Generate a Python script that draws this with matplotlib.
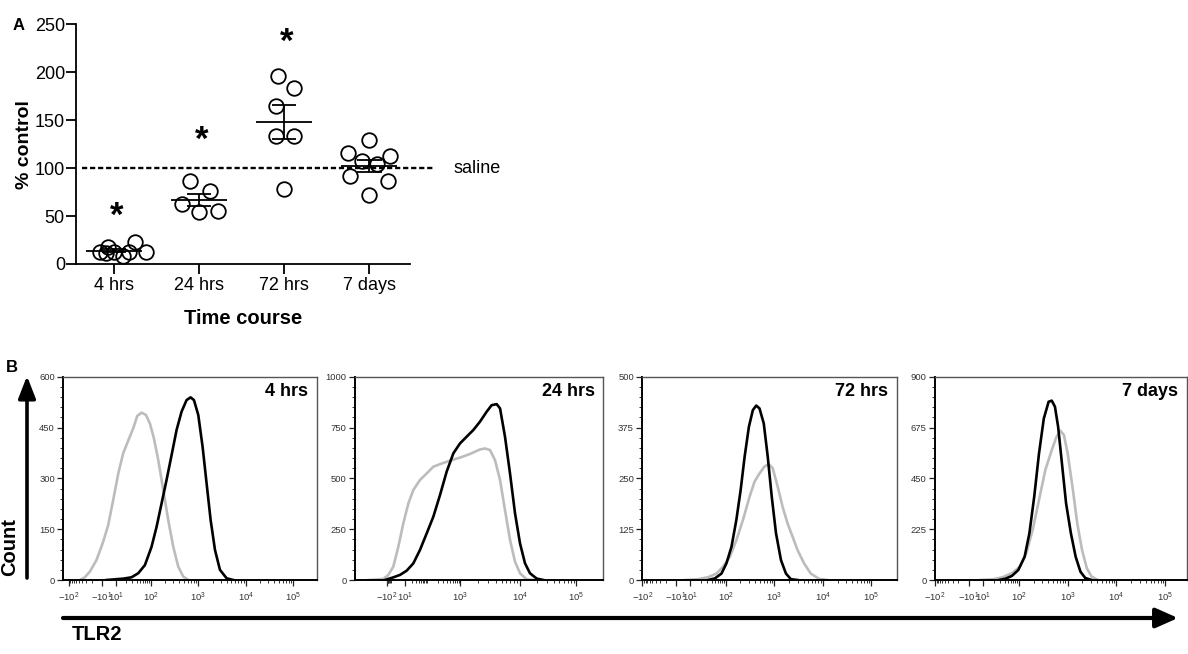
import numpy as np
import matplotlib
matplotlib.use('Agg')
import matplotlib.pyplot as plt
from matplotlib.ticker import FixedLocator, FixedFormatter, AutoMinorLocator
from matplotlib.patches import FancyArrowPatch

plt.rcParams['font.family'] = ['Liberation Sans', 'DejaVu Sans']
plt.rcParams['mathtext.fontset'] = 'custom'
plt.rcParams['mathtext.rm'] = 'Liberation Sans'
plt.rcParams['mathtext.it'] = 'Liberation Sans:italic'
plt.rcParams['mathtext.bf'] = 'Liberation Sans:bold'
plt.rcParams['mathtext.default'] = 'regular'

# ---------------- Panel A data ----------------
groups = ['4 hrs', '24 hrs', '72 hrs', '7 days']
vals_4h = [13, 18, 12, 8, 23, 13, 12, 11]
vals_24h = [87, 76.5, 63, 54, 55]
vals_72h = [196, 184, 165, 133, 133, 78.6]
vals_7d = [129, 116, 113, 107, 104, 92, 86.6, 71.6]
jit_4h = [-0.17, -0.07, 0.0, 0.1, 0.25, 0.38, 0.18, -0.1]
jit_24h = [-0.11, 0.13, -0.2, 0.0, 0.22]
jit_72h = [-0.07, 0.12, -0.1, -0.1, 0.12, 0.0]
jit_7d = [0.0, -0.25, 0.25, -0.09, 0.09, -0.22, 0.22, 0.0]
saline_level = 100
signif = [True, True, True, False]
star_y = [55.6, 134.6, 237, None]

# ---------------- Panel B data ----------------
hist_titles = ['4 hrs', '24 hrs', '72 hrs', '7 days']
hist_ymax = [600, 1000, 500, 900]

p1_gray_x = [-46.5, -32.8, -23.0, -14.4, -6.15, -0.46, 4.17, 11.9, 16.4, 23.2, 31.8, 41.3,
             54.8, 73.3, 94.6, 116.7, 143.9, 183.2, 233.3, 297.9, 380.2, 483.1, 616.6]
p1_gray_y = [0, 8, 25, 59, 113, 162, 236, 315, 374, 413, 448, 484, 494, 487, 462, 418,
             354, 266, 177, 98, 39, 10, 0]
p1_black_x = [-1.69, 7.8, 16.5, 28.4, 44.2, 68.2, 104, 132.7, 169, 215, 274.8, 350, 445.6,
              567.5, 690, 811, 1000, 1233, 1497, 1820, 2244, 2858, 3948, 5458]
p1_black_y = [0, 2, 4, 8, 20, 44, 98, 157, 226, 295, 369, 443, 497, 531, 539, 531, 487,
              393, 285, 177, 89, 30, 5, 0]

p2_gray_x = [-407, -131, -52.5, -5.83, 0.62, 6.81, 14.7, 24.0, 46.2, 89.1, 148, 239, 489,
             1000, 1472, 2163, 2624, 3184, 3855, 4688, 5675, 6887, 8356, 10140, 13300, 17400]
p2_gray_y = [0, 5, 25, 66, 164, 279, 377, 443, 492, 524, 557, 570, 587, 602, 620, 642,
             647, 639, 590, 492, 344, 197, 90, 33, 3, 0]
p2_black_x = [-115, -5.83, 1.90, 12.45, 24.0, 46.2, 89.1, 148, 239, 385, 621, 1000, 1294,
              1675, 2163, 2800, 3388, 4121, 4688, 5675, 6887, 8356, 10140, 12410, 15200,
              19950, 26180]
p2_black_y = [0, 13, 25, 46, 82, 148, 229, 311, 418, 533, 623, 672, 705, 738, 779, 828,
              860, 865, 844, 705, 524, 328, 180, 82, 33, 7, 0]

p3_gray_x = [1.54, 17.2, 32.5, 55.3, 84.5, 121, 165, 226, 309, 391, 494, 625, 766, 925,
             1169, 1479, 1871, 2366, 2992, 4093, 5598, 8279, 12250]
p3_gray_y = [0, 2, 7, 16, 33, 57, 98, 148, 205, 242, 262, 279, 285, 275, 230, 180, 139,
             107, 74, 41, 16, 3, 0]
p3_black_x = [32.5, 49.8, 76.0, 103, 131, 165, 202, 244, 299, 361, 423, 494, 605, 731,
              883, 1081, 1368, 1730, 2188, 2992]
p3_black_y = [0, 4, 16, 41, 82, 148, 221, 303, 377, 418, 429, 422, 385, 303, 205, 115,
              49, 16, 2, 0]

p4_gray_x = [3.66, 18.9, 34.8, 63.8, 105, 141, 191, 258, 348, 471, 590, 708, 836, 1000,
             1253, 1570, 1968, 2466, 3090, 4178]
p4_gray_y = [0, 3, 12, 30, 59, 118, 221, 354, 487, 575, 634, 661, 642, 560, 413, 251,
             133, 52, 15, 0]
p4_black_x = [28.4, 42.5, 63.8, 96, 131, 164, 206, 258, 324, 406, 471, 548, 637, 762,
              927, 1162, 1456, 1824, 2287, 3090]
p4_black_y = [0, 6, 18, 44, 103, 207, 369, 560, 715, 789, 794, 767, 678, 516, 339, 207,
              103, 37, 9, 0]

# biexponential-like display scales (arcsinh units -> display decades)
scale_u = [-5, -4, -2, -1, 0, 1, 2, 3, 4, 5, 7]
scale_p_std = [-4.79, -4.10, -2.72, -2.03, -1.88, -1.74, -1.0, 0, 1, 2, 4]
scale_u2 = [-5, -3, -2, -1, 0, 1, 2, 3, 4, 5, 7]
scale_p_wide = [-2.81, -1.77, -1.25, -1.16, -1.07, -0.95, -0.55, 0, 1.02, 1.99, 3.99]

ticks_std = [-100, -10, 10, 100, 1000, 10000, 100000]
labels_std = [r'$-10^{2}$', r'$-10^{1}$', r'$10^{1}$', r'$10^{2}$', r'$10^{3}$', r'$10^{4}$', r'$10^{5}$']
ticks_wide = [-100, 10, 1000, 10000, 100000]
labels_wide = [r'$-10^{2}$', r'$10^{1}$', r'$10^{3}$', r'$10^{4}$', r'$10^{5}$']

W, H = 1188, 654
fig = plt.figure(figsize=(W / 100, H / 100), dpi=100)


def px_rect(l, t, r, b):
    return [l / W, 1 - b / H, (r - l) / W, (b - t) / H]


# ---------------- Panel A ----------------
axA = fig.add_axes(px_rect(76, 24.3, 410, 264))
all_vals = [vals_4h, vals_24h, vals_72h, vals_7d]
all_jit = [jit_4h, jit_24h, jit_72h, jit_7d]
xpos = np.arange(1, len(groups) + 1)
for i, (v, j) in enumerate(zip(all_vals, all_jit)):
    v = np.asarray(v, float)
    xc = xpos[i]
    m = v.mean()
    sem = v.std(ddof=1) / np.sqrt(len(v))
    axA.plot(xc + np.asarray(j), v, 'o', ms=10.5, mfc='none', mec='black', mew=1.3, zorder=3)
    axA.hlines(m, xc - 0.33, xc + 0.33, color='black', lw=1.3, zorder=4)
    axA.vlines(xc, m - sem, m + sem, color='black', lw=1.3, zorder=4)
    axA.hlines([m - sem, m + sem], xc - 0.145, xc + 0.145, color='black', lw=1.3, zorder=4)
    if signif[i]:
        axA.annotate('*', (xc + 0.03, star_y[i]), xytext=(0, -11), textcoords='offset points',
                     ha='center', va='baseline', fontsize=25, fontweight='bold')

axA.plot([0.624, 4.75], [saline_level, saline_level], color='black', lw=1.7,
         dashes=(2.2, 1.2), clip_on=False, zorder=2)
axA.text(4.99, saline_level, 'saline', ha='left', va='center', fontsize=13)

axA.set_xlim(0.553, 4.48)
axA.set_ylim(0, 250)
axA.set_xticks(xpos)
axA.set_xticklabels(groups, fontsize=13)
axA.set_yticks([0, 50, 100, 150, 200, 250])
axA.tick_params(axis='y', labelsize=13, length=7, width=1.3, pad=1)
axA.tick_params(axis='x', length=7, width=1.3, pad=2.5)
for s in ['top', 'right']:
    axA.spines[s].set_visible(False)
for s in ['left', 'bottom']:
    axA.spines[s].set_linewidth(1.3)
axA.set_ylabel('% control', fontsize=14, fontweight='bold')
axA.yaxis.set_label_coords(-0.129, 0.5)
axA.set_xlabel('Time course', fontsize=14.5, fontweight='bold', labelpad=11)
fig.text(19 / W, 1 - 25 / H, 'A', fontsize=12, fontweight='bold', ha='center', va='center')


# ---------------- Panel B ----------------
def make_scale(U, P):
    U = np.asarray(U, float)
    P = np.asarray(P, float)
    ln10 = np.log(10.0)

    def fwd(x):
        x = np.asarray(x, float)
        return np.interp(np.arcsinh(x / 2.0) / ln10, U, P)

    def inv(p):
        p = np.asarray(p, float)
        return 2.0 * np.sinh(np.interp(p, P, U) * ln10)
    return fwd, inv


panel_rects = [(63.3, 316.7), (355, 603.3), (642.3, 896.7), (935, 1186.7)]
panel_xlim = [(-149, 3.1e5), (-1117, 2.88e5), (-100, 3.31e5), (-100, 2.75e5)]
panel_curves = [
    (p1_gray_x, p1_gray_y, p1_black_x, p1_black_y),
    (p2_gray_x, p2_gray_y, p2_black_x, p2_black_y),
    (p3_gray_x, p3_gray_y, p3_black_x, p3_black_y),
    (p4_gray_x, p4_gray_y, p4_black_x, p4_black_y),
]
minor_ticks = [-k * 10 for k in range(2, 10)] + [k * 10 ** n for n in range(1, 5) for k in range(2, 10)]

for i in range(4):
    l, r = panel_rects[i]
    ax = fig.add_axes(px_rect(l, 376.7, r, 580))
    if i == 1:
        fwd, inv = make_scale(scale_u2, scale_p_wide)
        tk, tl = ticks_wide, labels_wide
    else:
        fwd, inv = make_scale(scale_u, scale_p_std)
        tk, tl = ticks_std, labels_std
    ax.set_xscale('function', functions=(fwd, inv))
    gx, gy, bx, by = panel_curves[i]
    ax.plot(gx, gy, color='#bcbcbc', lw=1.9, solid_joinstyle='round', zorder=2)
    ax.plot(bx, by, color='black', lw=1.9, solid_joinstyle='round', zorder=3)
    ax.set_xlim(*panel_xlim[i])
    ax.set_ylim(0, hist_ymax[i])
    ax.xaxis.set_major_locator(FixedLocator(tk))
    ax.xaxis.set_major_formatter(FixedFormatter(tl))
    ax.xaxis.set_minor_locator(FixedLocator(minor_ticks))
    ax.set_yticks(np.linspace(0, hist_ymax[i], 5))
    ax.yaxis.set_minor_locator(AutoMinorLocator(5))
    ax.tick_params(axis='both', which='major', labelsize=6.8, labelcolor='#333333',
                   length=4, width=0.9, pad=2, color='#222222')
    ax.tick_params(axis='both', which='minor', length=2, width=0.7, color='#333333')
    ax.tick_params(axis='x', which='major', pad=4)
    for s in ['left', 'bottom']:
        ax.spines[s].set_linewidth(1.4)
        ax.spines[s].set_color('black')
    for s in ['top', 'right']:
        ax.spines[s].set_linewidth(1.0)
        ax.spines[s].set_color('#555555')
    ax.text(0.965, 0.925, hist_titles[i], transform=ax.transAxes, ha='right', va='center',
            fontsize=13, fontweight='bold')

fig.text(12 / W, 1 - 368 / H, 'B', fontsize=12, fontweight='bold', ha='center', va='center')

# axis arrows
fig.add_artist(FancyArrowPatch((27 / W, 1 - 578 / H), (27 / W, 1 - 376 / H),
                               transform=fig.transFigure, arrowstyle='-|>,head_length=0.9,head_width=0.35',
                               mutation_scale=15, lw=2.6, color='black', shrinkA=0, shrinkB=0))
fig.add_artist(FancyArrowPatch((63 / W, 1 - 618 / H), (1178 / W, 1 - 618 / H),
                               transform=fig.transFigure, arrowstyle='-|>,head_length=0.9,head_width=0.4',
                               mutation_scale=15, lw=3.0, color='black', shrinkA=0, shrinkB=0))
fig.text(10 / W, 1 - 547 / H, 'Count', rotation=90, fontsize=14.5, fontweight='bold',
         ha='center', va='center')
fig.text(72 / W, 1 - 635 / H, 'TLR2', fontsize=14.5, fontweight='bold', ha='left', va='center')

fig.savefig('out.png', dpi=100)
